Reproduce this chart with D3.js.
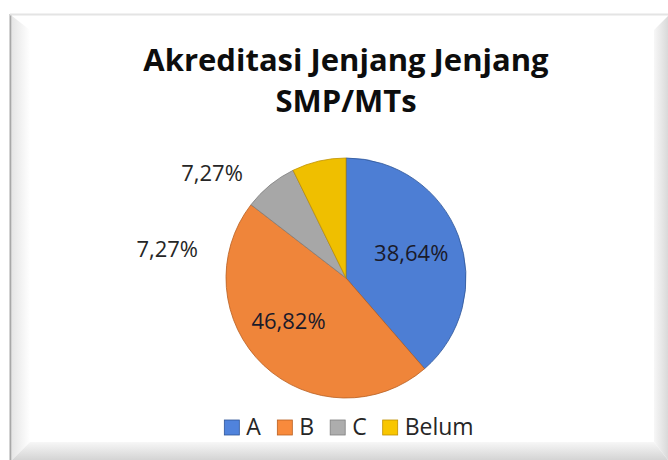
<!DOCTYPE html>
<html>
<head>
<meta charset="utf-8">
<script src="https://cdn.jsdelivr.net/npm/d3@7"></script>
<style>
  body { margin: 0; background: #fff; }
  svg { display: block; }
  text { font-family: "Open Sans", "Noto Sans", sans-serif; fill: #262626; }
</style>
</head>
<body>
<script>
const categories = ["A", "B", "C", "Belum"];
const values = [38.64, 46.82, 7.27, 7.27];
const labelText = ["38,64%", "46,82%", "7,27%", "7,27%"];
const titleLines = ["Akreditasi Jenjang Jenjang", "SMP/MTs"];

const width = 668, height = 460,
  cx = 346, cy = 278, radius = 120,
  colors = ["#5083dc", "#f88a3c", "#adadad", "#f8c600"],
  edge = ["#2f5597", "#b85f22", "#7f7f7f", "#bf9000"];

// label spots as [angle deg, distance]; null = arc centroid
const labelPos = [null, [233, 72], [308, 170], [279, 181]];

const svg = d3.select("body").append("svg")
  .attr("width", width)
  .attr("height", height);

const defs = svg.append("defs");

// frame with a bevel
const gb = defs.append("linearGradient").attr("id", "bevB").attr("x1", 0).attr("y1", 0).attr("x2", 0).attr("y2", 1);
gb.append("stop").attr("offset", 0).attr("stop-color", "#f7f7f7");
gb.append("stop").attr("offset", 1).attr("stop-color", "#d4d4d4");
const gr = defs.append("linearGradient").attr("id", "bevR").attr("x1", 0).attr("y1", 0).attr("x2", 1).attr("y2", 0);
gr.append("stop").attr("offset", 0).attr("stop-color", "#f7f7f7");
gr.append("stop").attr("offset", 1).attr("stop-color", "#d9d9d9");
const gl = defs.append("linearGradient").attr("id", "bevL").attr("x1", 0).attr("y1", 0).attr("x2", 1).attr("y2", 0);
gl.append("stop").attr("offset", 0).attr("stop-color", "#e6e6e6");
gl.append("stop").attr("offset", 1).attr("stop-color", "#ffffff");

svg.append("rect").attr("x", 10).attr("y", 14).attr("width", 670).attr("height", 460).attr("fill", "#fff");
svg.append("path").attr("d", "M12,16 L30,30 L30,442 L12,460 Z").attr("fill", "url(#bevL)");
svg.append("path").attr("d", "M12,460 L30,442 L654,442 L668,460 Z").attr("fill", "url(#bevB)");
svg.append("path").attr("d", "M654,30 L668,16 L668,460 L654,442 Z").attr("fill", "url(#bevR)");
svg.append("line").attr("x1", 10.5).attr("x2", 10.5).attr("y1", 14).attr("y2", 460).attr("stroke", "#a8a8a8").attr("stroke-width", 2);
svg.append("line").attr("x1", 10).attr("x2", 668).attr("y1", 14.5).attr("y2", 14.5).attr("stroke", "#e4e4e4").attr("stroke-width", 2);

// title
svg.append("text")
  .attr("x", cx)
  .attr("text-anchor", "middle")
  .style("font-weight", "bold")
  .style("font-size", "31px")
  .style("fill", "#0d0d0d")
  .selectAll("tspan")
  .data(titleLines)
  .join("tspan")
  .attr("x", cx)
  .attr("y", (d, i) => 71 + i * 41)
  .text(d => d);

// slice gradients, a soft bevel look
colors.forEach((c, i) => {
  const g = defs.append("radialGradient").attr("id", "sl" + i)
    .attr("gradientUnits", "userSpaceOnUse")
    .attr("cx", cx).attr("cy", cy).attr("r", radius);
  g.append("stop").attr("offset", 0).attr("stop-color", d3.color(c).darker(0.08));
  g.append("stop").attr("offset", 0.8).attr("stop-color", c);
  g.append("stop").attr("offset", 0.95).attr("stop-color", d3.color(c).brighter(0.15));
  g.append("stop").attr("offset", 1).attr("stop-color", d3.color(c).darker(0.1));
});

const pie = d3.pie().sort(null).value(d => d);
const arcs = pie(values);
const arc = d3.arc().innerRadius(0).outerRadius(radius);
const labelArc = d3.arc().innerRadius(radius * 0.58).outerRadius(radius * 0.58);

const g = svg.append("g").attr("transform", `translate(${cx},${cy})`);

g.selectAll("path.slice")
  .data(arcs)
  .join("path")
  .attr("class", "slice")
  .attr("d", arc)
  .attr("fill", (d, i) => `url(#sl${i})`)
  .attr("stroke", (d, i) => edge[i])
  .attr("stroke-width", 0.8);

g.selectAll("text.lbl")
  .data(arcs)
  .join("text")
  .attr("class", "lbl")
  .attr("text-anchor", "middle")
  .attr("dy", "0.35em")
  .style("font-size", "22px")
  .style("fill", (d, i) => i < 2 ? "#1a1a2a" : "#262626")
  .attr("transform", (d, i) => {
    const p = labelPos[i];
    if (p) {
      const a = p[0] * Math.PI / 180;
      return `translate(${p[1] * Math.sin(a)},${-p[1] * Math.cos(a)})`;
    }
    return `translate(${labelArc.centroid(d)})`;
  })
  .text((d, i) => labelText[i]);

// legend
const legend = svg.append("g").attr("class", "legend");
const items = legend.selectAll("g")
  .data(categories)
  .join("g");
items.append("rect")
  .attr("width", 15).attr("height", 15)
  .attr("y", -15)
  .attr("fill", (d, i) => colors[i])
  .attr("stroke", (d, i) => edge[i])
  .attr("stroke-width", 0.8);
items.append("text")
  .attr("x", 22)
  .style("font-size", "23px")
  .text(d => d);

let xpos = 0;
items.each(function () {
  d3.select(this).attr("transform", `translate(${xpos},0)`);
  xpos += this.getBBox().width + 16;
});
const total = xpos - 16;
legend.attr("transform", `translate(${349 - total / 2},435)`);
</script>
</body>
</html>
